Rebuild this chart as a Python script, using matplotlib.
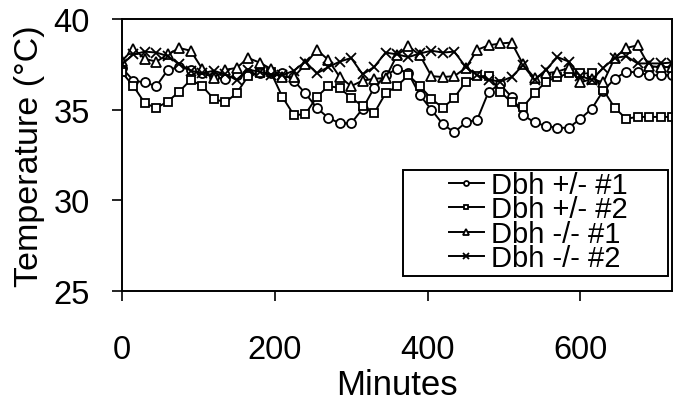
import matplotlib
matplotlib.use("Agg")
import matplotlib.pyplot as plt
from matplotlib.patches import Rectangle

plt.rcParams['font.family'] = ['Liberation Sans', 'DejaVu Sans']

minutes = list(range(0, 721, 15))

het1 = [37.3, 36.6, 36.5, 36.3, 37.2, 37.35, 37.2, 37.0, 36.8, 36.7,
        36.9, 37.0, 37.0, 37.0, 37.0, 36.6, 35.9, 35.1, 34.55, 34.25,
        34.25, 35.05, 36.2, 36.9, 37.25, 37.0, 35.8, 35.0, 34.2, 33.75,
        34.3, 34.45, 36.0, 36.4, 35.7, 34.7, 34.3, 34.1, 34.0, 34.0,
        34.5, 35.05, 36.05, 36.7, 37.1, 37.05, 36.9, 36.9, 36.9]

het2 = [37.05, 36.3, 35.35, 35.1, 35.45, 36.0, 36.65, 36.3, 35.6, 35.4,
        35.9, 36.85, 37.0, 37.05, 35.7, 34.7, 34.75, 35.7, 36.3, 36.2,
        35.65, 35.2, 34.8, 35.9, 36.3, 36.9, 36.3, 35.6, 35.1, 35.65,
        36.55, 36.85, 36.85, 36.0, 35.4, 35.15, 35.9, 36.55, 36.8, 37.0,
        37.0, 37.0, 36.1, 35.1, 34.5, 34.6, 34.6, 34.6, 34.6]

ko1 = [37.7, 38.35, 37.8, 37.65, 38.05, 38.4, 38.25, 37.25, 36.75, 37.2,
       37.3, 37.85, 37.6, 37.25, 36.8, 36.8, 37.5, 38.3, 37.75, 36.8,
       36.3, 36.6, 36.7, 36.75, 38.0, 38.5, 38.0, 36.85, 36.8, 36.85,
       37.3, 38.3, 38.55, 38.65, 38.7, 37.5, 36.75, 37.0, 37.1, 37.3,
       36.5, 36.7, 36.5, 37.85, 38.4, 38.55, 37.4, 37.35, 37.35]

ko2 = [37.5, 38.05, 38.2, 38.15, 37.95, 37.5, 37.15, 37.0, 37.15, 36.95,
       36.65, 37.2, 37.1, 36.9, 36.9, 37.15, 37.65, 37.0, 37.35, 37.65,
       37.85, 36.95, 37.35, 38.15, 38.05, 37.9, 38.1, 38.25, 38.15, 38.2,
       37.35, 36.9, 36.65, 36.55, 36.8, 37.45, 36.65, 37.2, 37.9, 37.65,
       36.85, 36.65, 37.3, 37.85, 37.95, 37.55, 37.55, 37.55, 37.6]

labels = ['Dbh +/- #1', 'Dbh +/- #2', 'Dbh -/- #1', 'Dbh -/- #2']
xticks = [0, 200, 400, 600]
yticks = [25, 30, 35, 40]

fig = plt.figure(figsize=(6.86, 4.02), dpi=100)
ax = fig.add_axes([122/686, 1-292/402, 550/686, 272/402])

common = dict(color='black', lw=1.4, mfc='white', mec='black', mew=1.3)
ax.plot(minutes, het1, marker='o', ms=6.5, label=labels[0], **common)
ax.plot(minutes, het2, marker='s', ms=6.0, label=labels[1], **common)
ax.plot(minutes, ko1, marker='^', ms=7.5, label=labels[2], **common)
ax.plot(minutes, ko2, marker='x', ms=7.0, label=labels[3], **common)

ax.set_xlim(0, 720)
ax.set_ylim(25, 40)
ax.set_xticks(xticks)
ax.set_yticks(yticks)
ax.tick_params(direction='out', length=7, width=1.2, labelsize=23.5, colors='black')
ax.tick_params(axis='x', pad=24)
ax.tick_params(axis='y', pad=16)
for s in ax.spines.values():
    s.set_linewidth(1.4)
    s.set_color('black')

ax.set_xlabel('Minutes', fontsize=25, labelpad=2)
ax.set_ylabel('Temperature (°C)', fontsize=24.5, labelpad=6)

# legend frame box (axes coordinates)
bx0, bx1 = (403-122)/550, (668-122)/550
by0, by1 = (292-277)/272, (292-171)/272
ax.add_patch(Rectangle((bx0, by0), bx1-bx0, by1-by0, transform=ax.transAxes,
                       facecolor='white', edgecolor='black', lw=1.4, zorder=4))
leg = ax.legend(loc='center', bbox_to_anchor=((bx0+bx1)/2+0.005, (by0+by1)/2+0.005),
                borderaxespad=0, fontsize=21, frameon=False,
                markerscale=0.55, handlelength=1.2, handletextpad=0.25,
                labelspacing=-0.12, borderpad=0.0)
leg.set_zorder(5)

fig.savefig('out.png', dpi=100)
